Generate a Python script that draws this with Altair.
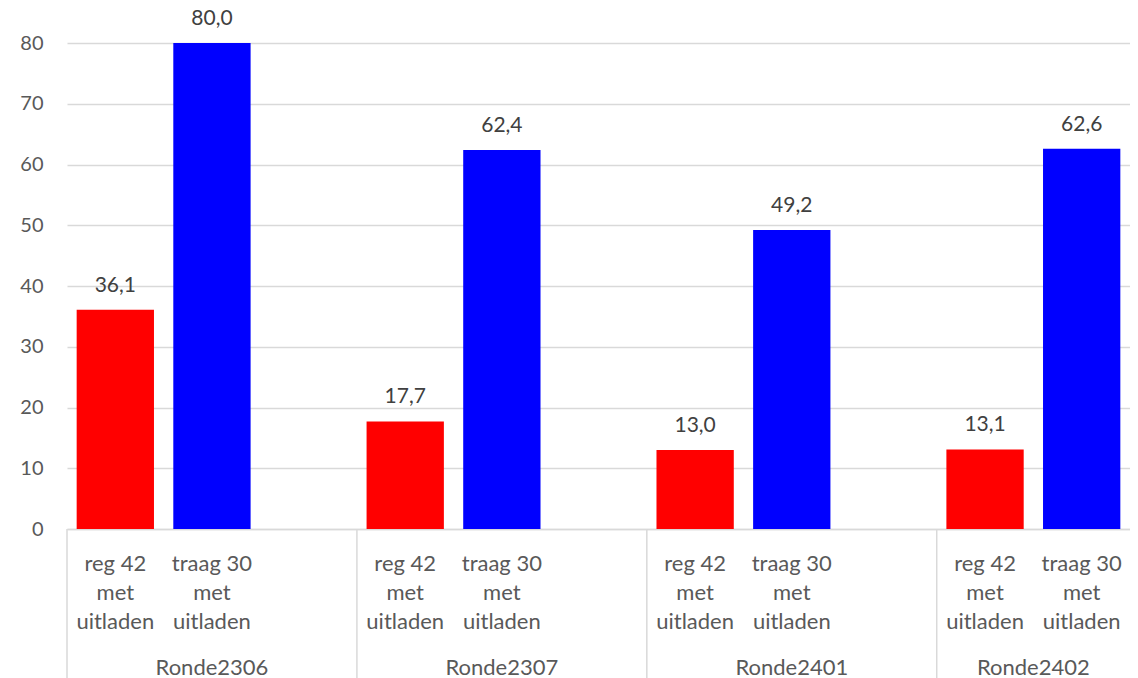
import altair as alt
import pandas as pd

groups = ["Ronde2306", "Ronde2307", "Ronde2401", "Ronde2402"]
series = ["reg 42 met uitladen", "traag 30 met uitladen"]
reg_values = [36.1, 17.7, 13.0, 13.1]
traag_values = [80.0, 62.4, 49.2, 62.6]
series_colors = ["#FF0000", "#0000FF"]
y_ticks = [0, 10, 20, 30, 40, 50, 60, 70, 80]

values_by_series = [reg_values, traag_values]

# slot keys: each group has the two series plus an empty third slot (last group cut off)
domain = []
rows = []
for gi, g in enumerate(groups):
    for si, s in enumerate(series):
        key = f"{g}|{s}"
        domain.append(key)
        rows.append({"key": key, "group": g, "series": s, "value": values_by_series[si][gi]})
    if gi < len(groups) - 1:
        domain.append(f"{g}|")
df = pd.DataFrame(rows)

sep_df = pd.DataFrame({"key": [f"{g}|{series[0]}" for g in groups]})
glab_df = pd.DataFrame({"key": [f"{g}|{series[1]}" for g in groups[:-1]], "group": groups[:-1]})
glab_last_df = pd.DataFrame({"key": [f"{groups[-1]}|{series[0]}"], "group": [groups[-1]]})

FONT = "Lato"
W, H = 1063, 486
P_IN = 0.2
xscale = alt.Scale(domain=domain, paddingInner=P_IN, paddingOuter=P_IN / 2)
step = W / len(domain)
half_gap = P_IN * step / 2

x_enc = alt.X(
    "key:N",
    scale=xscale,
    title=None,
    axis=alt.Axis(
        labelExpr="split(replace(split(datum.value, '|')[1], ' met ', '|met|'), '|')",
        labelAngle=0,
        labelFontSize=22,
        labelLineHeight=29,
        labelColor="#595959",
        labelFont=FONT,
        labelPadding=24,
        ticks=False,
        tickSize=0,
        domainColor="#D9D9D9",
        domainWidth=1.5,
        grid=False,
    ),
)

bars = alt.Chart(df).mark_bar().encode(
    x=x_enc,
    y=alt.Y(
        "value:Q",
        scale=alt.Scale(domain=[0, 80], nice=False),
        title=None,
        axis=alt.Axis(
            values=y_ticks,
            domain=False,
            ticks=False,
            tickSize=0,
            labelPadding=24,
            labelFontSize=20,
            labelColor="#595959",
            labelFont=FONT,
            gridColor="#D9D9D9",
            gridWidth=1.3,
        ),
    ),
    color=alt.Color("series:N", scale=alt.Scale(domain=series, range=series_colors), legend=None),
)

labels = alt.Chart(df).transform_calculate(
    lab="replace(format(datum.value, '.1f'), '.', ',')"
).mark_text(fontSize=21, font=FONT, color="#404040", baseline="alphabetic", dy=-18).encode(
    x=alt.X("key:N", scale=xscale),
    y=alt.Y("value:Q"),
    text="lab:N",
)

seps = alt.Chart(sep_df).mark_rule(color="#D9D9D9", strokeWidth=1.5, xOffset=-half_gap).encode(
    x=alt.X("key:N", scale=xscale, bandPosition=0),
    y=alt.value(H),
    y2=alt.value(H + 160),
)

glab = alt.Chart(glab_df).mark_text(fontSize=22, font=FONT, color="#595959", baseline="middle").encode(
    x=alt.X("key:N", scale=xscale, bandPosition=0.5),
    y=alt.value(H + 139),
    text="group:N",
)

glab_last = alt.Chart(glab_last_df).mark_text(
    fontSize=22, font=FONT, color="#595959", baseline="middle", dx=half_gap
).encode(
    x=alt.X("key:N", scale=xscale, bandPosition=1),
    y=alt.value(H + 139),
    text="group:N",
)

chart = alt.layer(bars, labels, seps, glab, glab_last).properties(
    width=W,
    height=H,
    autosize=alt.AutoSizeParams(type="none"),
    padding={"left": 59, "top": 35, "right": 0, "bottom": 150},
).configure_view(stroke=None)

chart.save("out.html", embed_options={"renderer": "svg", "actions": False})
